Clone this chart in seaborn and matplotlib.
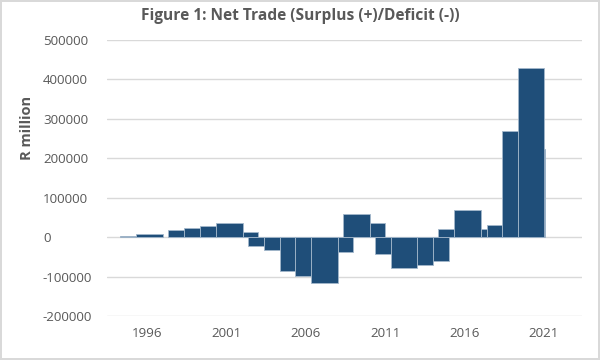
import pandas as pd
import matplotlib
matplotlib.use("Agg")
import matplotlib.pyplot as plt
import seaborn as sns
from matplotlib.ticker import FuncFormatter

# ===== DADOS (date axis in decimal years, values in R million) =====
# listed in drawing order (the 2021 bar sits behind the 2020 peak)
period_start = [1994.32, 1995.33, 1997.34, 1998.35, 1999.36, 2000.37, 2002.03,
                2002.34, 2003.35, 2004.36, 2005.35, 2006.36, 2008.02, 2008.36,
                2010.02, 2010.35, 2011.34, 2013.02, 2014.01, 2014.35, 2015.36,
                2017.02, 2017.38, 2018.36, 2020.05, 2019.37]
period_end = [1995.33, 1997.01, 1998.35, 1999.36, 2000.37, 2002.03, 2003.02,
              2003.35, 2004.36, 2005.35, 2006.36, 2008.02, 2008.99, 2010.02,
              2011.01, 2011.34, 2013.02, 2014.01, 2015.02, 2015.36, 2017.02,
              2017.38, 2018.36, 2019.37, 2021.05, 2021.01]
net_trade = [2500, 6800, 17000, 22000, 28000, 35600, 11900,
             -22900, -33900, -84700, -97500, -117000, -38500, 57300,
             36100, -42900, -78200, -69700, -59700, 19300, 69700,
             19300, 30300, 269700, 223500, 427700]

year_ticks = [1996, 2001, 2006, 2011, 2016, 2021]
value_ticks = [-200000, -100000, 0, 100000, 200000, 300000, 400000, 500000]

df = pd.DataFrame({"start": period_start, "end": period_end, "value": net_trade})
df["width"] = df["end"] - df["start"]

# ===== ESTILO =====
sns.set_theme(style="whitegrid")
plt.rcParams['font.family'] = ['Open Sans', 'DejaVu Sans']
plt.rcParams['axes.unicode_minus'] = False
text_grey = "#595959"

fig = plt.figure(figsize=(6, 3.6), dpi=100)
fig.patch.set_edgecolor("#D9D9D9")
fig.patch.set_linewidth(1.5)
ax = fig.add_axes([0.178, 0.122, 0.792, 0.768])

ax.bar(df["start"], df["value"], width=df["width"], align="edge",
       color="#1F4E79", edgecolor="#a3b7cb", linewidth=0.6, zorder=3)

ax.set_xlim(1993.48, 2023.39)
ax.set_ylim(-200000, 500000)
ax.set_xticks(year_ticks)
ax.set_yticks(value_ticks)
ax.yaxis.set_major_formatter(FuncFormatter(lambda v, p: f"{int(v)}"))
ax.grid(axis="y", color="#D9D9D9", linewidth=1)
ax.grid(axis="x", visible=False)
sns.despine(ax=ax, left=True, bottom=True)
ax.tick_params(axis="both", length=0, labelsize=9.6, labelcolor=text_grey)
ax.tick_params(axis="y", pad=46)
ax.tick_params(axis="x", pad=8)
for lbl in ax.get_yticklabels():
    lbl.set_horizontalalignment("left")

fig.text(0.5, 1 - 16 / 360, "Figure 1: Net Trade (Surplus (+)/Deficit (-))",
         ha="center", va="center", fontsize=11.2, fontweight="bold", color=text_grey)
fig.text(27 / 600, 1 - 128 / 360, "R million", rotation=90, ha="center",
         va="center", fontsize=10.5, fontweight="bold", color=text_grey)

fig.savefig("out.png", dpi=100)
